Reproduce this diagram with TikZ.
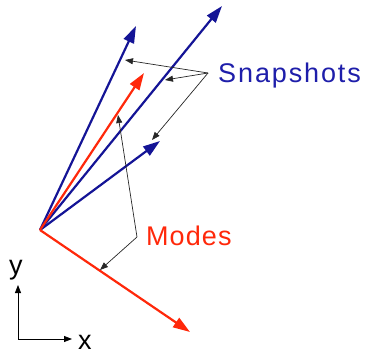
\documentclass[tikz,border=0pt]{standalone}
\usepackage{fontspec}
\setmainfont{Liberation Sans}
\newfontfamily\snapfont[LetterSpace=7]{Liberation Sans}
\newfontfamily\modefont[LetterSpace=4]{Liberation Sans}
\usetikzlibrary{arrows.meta}
\definecolor{vecblue}{RGB}{20,20,150}
\definecolor{txtblue}{RGB}{30,30,170}
\definecolor{vecred}{RGB}{255,40,10}
\tikzset{
  vector/.style={line width=2.2pt, -{Triangle[length=17pt,width=11pt]}},
  snapvec/.style={vector, draw=vecblue, fill=vecblue},
  modevec/.style={vector, draw=vecred, fill=vecred},
  pointer/.style={draw=black!85, line width=0.7pt, -{Triangle[length=8pt,width=6pt]}},
  axis/.style={draw=black, line width=0.8pt, -{Triangle[length=8pt,width=6pt]}},
  label/.style={inner sep=0pt, anchor=base west, font=\fontsize{27}{31}\selectfont}
}
\begin{document}
\begin{tikzpicture}[x=1pt,y=-1pt]
\useasboundingbox (0,0) rectangle (365,354);
% origin and vector tips
\coordinate (O) at (40,230);
\coordinate (s1) at (136,26);
\coordinate (s2) at (222,6);
\coordinate (s3) at (160,141);
\coordinate (m1) at (144,73);
\coordinate (m2) at (190,332);
% vectors
\draw[snapvec] (O) -- (s1);
\draw[snapvec] (O) -- (s2);
\draw[snapvec] (O) -- (s3);
\draw[modevec] (O) -- (m1);
\draw[modevec] (O) -- (m2);
% labels
\node[label, text=txtblue] (snap) at (218,82) {\snapfont Snapshots};
\node[label, text=vecred] (modes) at (146,245.5) {\modefont Modes};
% pointer sources and targets
\coordinate (ps) at (208,73);
\coordinate (pm) at (137,237);
\coordinate (t1) at (125,60);
\coordinate (t2) at (165,80);
\coordinate (t3) at (152,140);
\coordinate (t4) at (118,115);
\coordinate (t5) at (100,270);
\draw[pointer] (ps) -- (t1);
\draw[pointer] (ps) -- (t2);
\draw[pointer] (ps) -- (t3);
\draw[pointer] (pm) -- (t4);
\draw[pointer] (pm) -- (t5);
% axes
\coordinate (ax0) at (18,339);
\coordinate (axy) at (18,285);
\coordinate (axx) at (72,339);
\draw[axis] (ax0) -- (axy);
\draw[axis] (ax0) -- (axx);
\node[label] (ylab) at (9,274) {y};
\node[label] (xlab) at (78,349) {x};
\end{tikzpicture}
\end{document}
